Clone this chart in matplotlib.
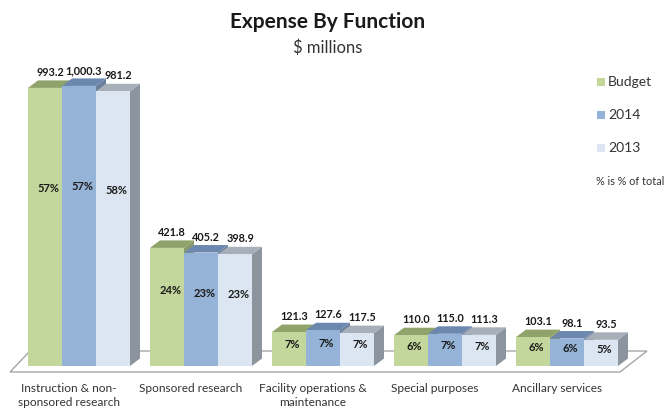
import matplotlib
matplotlib.use('Agg')
import matplotlib.pyplot as plt
from matplotlib.patches import Polygon, Rectangle

# ── Data ──────────────────────────────────────────────────────────────────────
categories = ['Instruction & non-\nsponsored research', 'Sponsored research',
              'Facility operations &\nmaintenance', 'Special purposes', 'Ancillary services']
series = ['Budget', '2014', '2013']
budget = [993.2, 421.8, 121.3, 110.0, 103.1]
y2014 = [1000.3, 405.2, 127.6, 115.0, 98.1]
y2013 = [981.2, 398.9, 117.5, 111.3, 93.5]
pct_budget = ['57%', '24%', '7%', '6%', '6%']
pct_2014 = ['57%', '23%', '7%', '7%', '6%']
pct_2013 = ['58%', '23%', '7%', '7%', '5%']
value_labels = [['993.2', '421.8', '121.3', '110.0', '103.1'],
                ['1,000.3', '405.2', '127.6', '115.0', '98.1'],
                ['981.2', '398.9', '117.5', '111.3', '93.5']]

# ── Colors (front, top, side) ────────────────────────────────────────────────
COLORS = [('#C3D69B', '#8FA36A', '#8A9A6A'),
          ('#95B3D7', '#6C88AE', '#6A7F9C'),
          ('#DCE6F2', '#A7AFB8', '#8C959E')]
DARK = '#1A1A1A'
TEXT = '#333333'
FONT = 'Lato'

W, H = 668, 409
fig = plt.figure(figsize=(W / 100, H / 100), dpi=100)
fig.patch.set_facecolor('white')
ax = fig.add_axes([0, 0, 1, 1])
ax.axis('off')

# pixel-based scale: 1 bar width = 34 px, 1 unit value = 0.28 px
PX_X, PX_Y = 34.0, 0.28
X0, Y0 = 28, 366
ax.set_xlim(-X0 / PX_X, (W - X0) / PX_X)
ax.set_ylim(-(H - Y0) / PX_Y, Y0 / PX_Y)

dx = 10 / PX_X      # depth offset in x units
dy = 7.5 / PX_Y     # depth offset in value units
pitch = 122 / PX_X  # group spacing

# ── Floor ────────────────────────────────────────────────────────────────────
fy0, fy1 = -6 / PX_Y, 15 / PX_Y
floor = Polygon([(-18 / PX_X, fy0), (592 / PX_X, fy0), (619 / PX_X, fy1), (2 / PX_X, fy1)],
                closed=True, facecolor='white', edgecolor='#A6A6A6', lw=1.0, zorder=1)
ax.add_patch(floor)

all_vals = [budget, y2014, y2013]
all_pcts = [pct_budget, pct_2014, pct_2013]

for g in range(len(categories)):
    for s in range(3):
        v = all_vals[s][g]
        x = g * pitch + s
        front, top, side = COLORS[s]
        z = 2 + g * 10 + s
        ax.add_patch(Polygon([(x + 1, 0), (x + 1 + dx, dy), (x + 1 + dx, v + dy), (x + 1, v)],
                             closed=True, facecolor=side, edgecolor='none', zorder=z))
        ax.add_patch(Polygon([(x, v), (x + dx, v + dy), (x + 1 + dx, v + dy), (x + 1, v)],
                             closed=True, facecolor=top, edgecolor='none', zorder=z))
        ax.add_patch(Rectangle((x, 0), 1, v, facecolor=front, edgecolor='none', zorder=z + 0.5))
        ax.text(x + 0.5 + dx / 2, v + dy + 8 / PX_Y, value_labels[s][g], ha='center',
                va='center', fontsize=7.8, fontweight='bold', color=DARK, family=FONT, zorder=100)
        ax.text(x + 0.5 + dx / 3, v * 0.64, all_pcts[s][g], ha='center', va='center',
                fontsize=8, fontweight='bold', color=DARK, family=FONT, zorder=100)
    ax.text(g * pitch + 1.2, -17 / PX_Y, categories[g], ha='center', va='top',
            fontsize=8.6, color=TEXT, family=FONT, linespacing=1.3)

# ── Title ────────────────────────────────────────────────────────────────────
fig.text(328 / W, 1 - 22 / H, 'Expense By Function', ha='center', va='center',
         fontsize=15, fontweight='bold', color=DARK, family=FONT)
fig.text(328 / W, 1 - 48 / H, '$ millions', ha='center', va='center',
         fontsize=12, color=TEXT, family=FONT)

# ── Legend ───────────────────────────────────────────────────────────────────
for i, name in enumerate(series):
    yy = 82 + i * 33
    fig.patches.append(Rectangle((597 / W, 1 - (yy + 4) / H), 8 / W, 8 / H,
                                 transform=fig.transFigure, facecolor=COLORS[i][0],
                                 edgecolor='none'))
    fig.text(608 / W, 1 - yy / H, name, ha='left', va='center', fontsize=10,
             color=TEXT, family=FONT)
fig.text(596 / W, 1 - 182 / H, '% is % of total', ha='left', va='center', fontsize=7.8,
         color=TEXT, family=FONT)

plt.savefig('out.png', dpi=100, facecolor='white')
